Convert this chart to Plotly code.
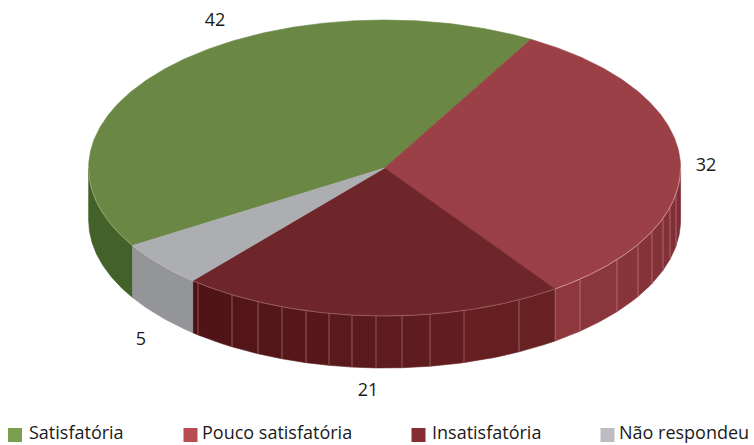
import numpy as np
import plotly.graph_objects as go

categories = ["Satisfatória", "Pouco satisfatória", "Insatisfatória", "Não respondeu"]
values = [42, 32, 21, 5]
top_colors = ["#6a8844", "#9b4046", "#6e262b", "#adaeb1"]
side_left = ["#43622a", "#8f383e", "#4e1215", "#939598"]
side_right = ["#43622a", "#7d2c34", "#6a2224", "#939598"]
legend_colors = ["#7aa04f", "#b84c50", "#842d33", "#bcbcc2"]
legend_marker_x = [15, 190.5, 418.5, 607.5]
legend_text_x = [30, 203, 433, 620]
value_label_pos = [(215, 21), (706, 166), (368, 391), (141, 340)]

CX, CY, RX, RY, DEPTH = 384.6, 168.0, 296.0, 148.0, 52.0
START_DEG = 29.6 - values[0] * 3.6
FONT = "Open Sans"
# vertical seams on the pie's wall (pixel x)
seam_x = [198, 232, 258, 282, 306, 329, 352, 376, 402, 430, 464, 519, 580, 617, 638, 652, 663, 670, 676]


def ell(deg, dy=0.0):
    t = np.radians(deg)
    return CX + RX * np.sin(t), CY - RY * np.cos(t) + dy


def wall_poly(a0, a1):
    ts = np.linspace(a0, a1, max(2, int(abs(a1 - a0) * 2)))
    xt, yt = ell(ts)
    xb, yb = ell(ts[::-1], DEPTH)
    return np.r_[xt, xb, xt[0]], np.r_[yt, yb, yt[0]]


def lerp_hex(c0, c1, f):
    a = [int(c0[i:i + 2], 16) for i in (1, 3, 5)]
    b = [int(c1[i:i + 2], 16) for i in (1, 3, 5)]
    return "#%02x%02x%02x" % tuple(round(p + (q - p) * f) for p, q in zip(a, b))


fig = go.Figure()


def poly(x, y, color):
    fig.add_trace(go.Scatter(x=x, y=y, mode="lines", fill="toself", fillcolor=color,
                             line=dict(color=color, width=0.6), hoverinfo="skip", showlegend=False))


edges = START_DEG + np.r_[0, np.cumsum(values)] * 3.6
spans = list(zip(edges[:-1], edges[1:]))
seam_deg = sorted(180 - np.degrees(np.arcsin((x - CX) / RX)) for x in seam_x)


def visible(a0, a1):
    # the wall shows only on the front half (90..270 degrees clockwise from the top)
    if a0 < 0:
        a0, a1 = a0 + 360, a1 + 360
    return max(a0, 90.0), min(a1, 270.0)


for i, (a0, a1) in enumerate(spans):
    lo, hi = visible(a0, a1)
    if hi <= lo:
        continue
    cuts = [lo] + [s for s in seam_deg if lo < s < hi] + [hi]
    for p, q in zip(cuts[:-1], cuts[1:]):
        f = 1 - ((p + q) / 2 - lo) / (hi - lo)
        px, py = wall_poly(p, q)
        poly(px, py, lerp_hex(side_left[i], side_right[i], f))

# seams
for s in seam_deg + [edges[1]+115.2]:
    x0, y0 = ell(s)
    x1, y1 = ell(s, DEPTH)
    fig.add_trace(go.Scatter(x=[x0, x1], y=[y0, y1], mode="lines",
                             line=dict(color="rgba(235,190,190,0.5)", width=0.8),
                             hoverinfo="skip", showlegend=False))

# top face
for i, (a0, a1) in enumerate(spans):
    ts = np.linspace(a0, a1, int((a1 - a0) * 2) + 2)
    ex, ey = ell(ts)
    poly(np.r_[CX, ex, CX], np.r_[CY, ey, CY], top_colors[i])

# rim highlight along the front edge
rim_colors = ["rgba(200,210,170,0.5)", "rgba(240,200,200,0.75)", "rgba(225,180,180,0.45)", "rgba(200,200,170,0.5)"]
for (a0, a1), c in zip(spans, rim_colors):
    lo, hi = visible(a0, a1)
    if hi > lo:
        rx, ry = ell(np.linspace(lo, hi, 200))
        fig.add_trace(go.Scatter(x=rx, y=ry, mode="lines", line=dict(color=c, width=0.8),
                                 hoverinfo="skip", showlegend=False))

# value labels
fig.add_trace(go.Scatter(x=[p[0] for p in value_label_pos], y=[p[1] for p in value_label_pos],
                         mode="text", text=[str(v) for v in values], textposition="middle center",
                         textfont=dict(family=FONT, size=18, color="#1a1a1a"),
                         hoverinfo="skip", showlegend=False))

# legend row
for name, col, mx, tx in zip(categories, legend_colors, legend_marker_x, legend_text_x):
    fig.add_trace(go.Scatter(x=[mx], y=[435], mode="markers", name=name,
                             marker=dict(symbol="square", size=14, color=col),
                             hoverinfo="name", showlegend=False))
    fig.add_annotation(x=tx, y=445, text=name, showarrow=False, xanchor="left", yanchor="bottom",
                       xshift=-2, borderpad=0, font=dict(family=FONT, size=18, color="#1a1a1a"))

fig.update_layout(
    width=754, height=445, margin=dict(l=0, r=0, t=0, b=0),
    paper_bgcolor="white", plot_bgcolor="white", showlegend=False,
    xaxis=dict(range=[0, 754], visible=False, fixedrange=True),
    yaxis=dict(range=[445, 0], visible=False, fixedrange=True),
)
fig.write_html("out.html", config={"displayModeBar": False},
               post_script="document.body.style.margin='0';document.documentElement.style.overflow='hidden';")
